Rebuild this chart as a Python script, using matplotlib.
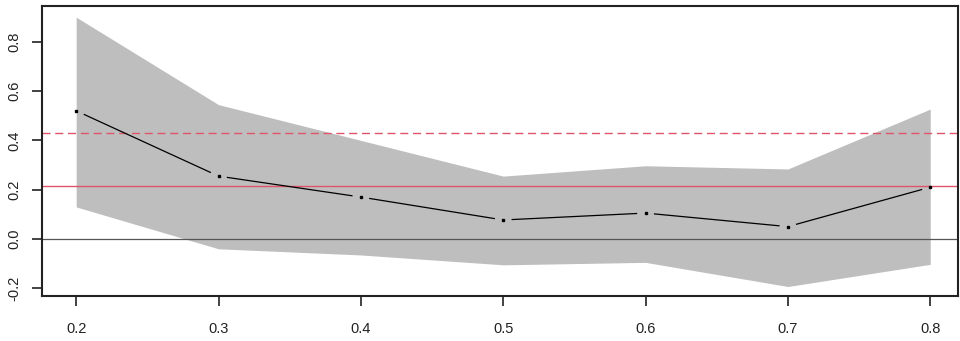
import matplotlib
matplotlib.use("Agg")
import matplotlib.pyplot as plt
import numpy as np

plt.rcParams['font.family'] = ['Liberation Sans', 'DejaVu Sans']
plt.rcParams['lines.scale_dashes'] = False

# values
x_vals = [0.2, 0.3, 0.4, 0.5, 0.6, 0.7, 0.8]
estimate = [0.52, 0.255, 0.17, 0.077, 0.105, 0.05, 0.21]
upper = [0.90, 0.545, 0.40, 0.255, 0.297, 0.284, 0.527]
lower = [0.13, -0.04, -0.065, -0.105, -0.095, -0.193, -0.103]
ref_solid = 0.215
ref_dashed = 0.43
x_ticks = [0.2, 0.3, 0.4, 0.5, 0.6, 0.7, 0.8]
y_ticks = [-0.2, 0.0, 0.2, 0.4, 0.6, 0.8]

fig = plt.figure(figsize=(9.6, 3.41), dpi=100)
ax = fig.add_axes([42 / 960, 1 - 296 / 341, 916 / 960, 290.3 / 341])

ax.fill_between(x_vals, lower, upper, color='#BEBEBE', linewidth=0)
ax.axhline(0, color='#555555', linewidth=0.9)
ax.axhline(ref_solid, color='#DF536B', linewidth=1.0)
ax.axhline(ref_dashed, color='#DF536B', linewidth=1.0, dashes=(5.8, 3.4))

ax.set_xlim(0.176, 0.8195)
ax.set_ylim(-0.2315, 0.9465)

# R type="b": points with short gaps in the connecting line
ax.plot(x_vals, estimate, linestyle='none', marker='s', markersize=1.5, color='black')
fig.canvas.draw()
pts = ax.transData.transform(np.column_stack([x_vals, estimate]))
gap = 9.0
inv = ax.transData.inverted()
for p0, p1 in zip(pts[:-1], pts[1:]):
    d = p1 - p0
    n = np.hypot(*d)
    if n <= 2 * gap:
        continue
    u = d / n
    a = inv.transform(p0 + u * gap)
    b = inv.transform(p1 - u * gap)
    ax.plot([a[0], b[0]], [a[1], b[1]], color='black', linewidth=0.9)

ax.set_xticks(x_ticks)
ax.set_xticklabels([f"{v:.1f}" for v in x_ticks])
ax.set_yticks(y_ticks)
ax.set_yticklabels([f"{v:.1f}" for v in y_ticks], rotation=90, va='center')

ax.tick_params(axis='both', direction='out', length=7.5, width=1.2, labelsize=10.5, colors='#222222')
ax.tick_params(axis='x', pad=11)
ax.tick_params(axis='y', pad=7)
for s in ax.spines.values():
    s.set_linewidth(1.5)
    s.set_color('#222222')

fig.savefig('out.png', dpi=100)
